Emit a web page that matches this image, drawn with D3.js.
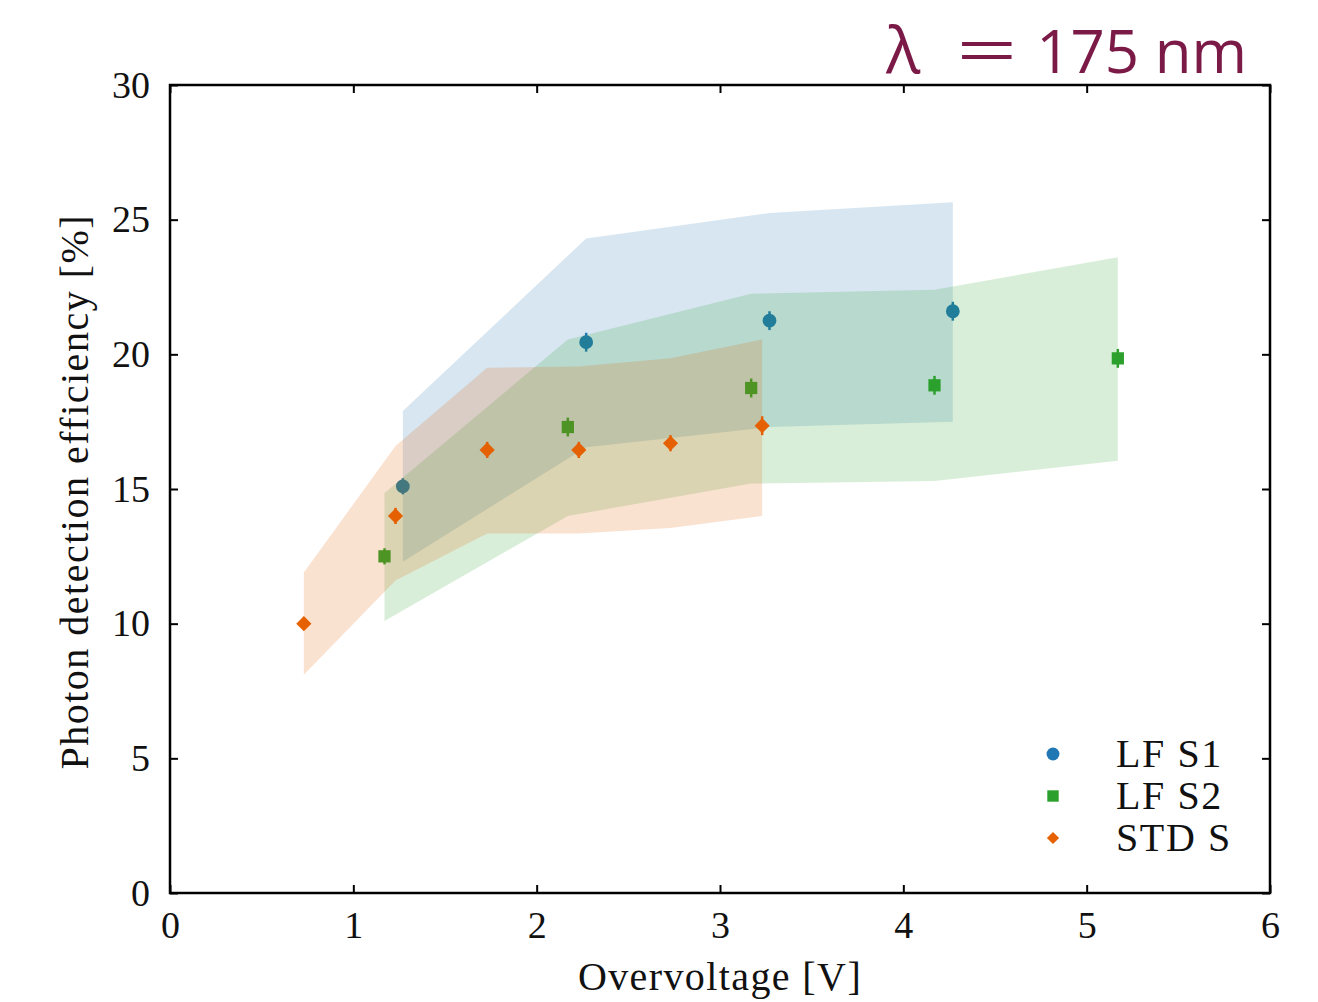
<!DOCTYPE html>
<html>
<head>
<meta charset="utf-8">
<script src="https://cdn.jsdelivr.net/npm/d3@7"></script>
<style>
  body { margin: 0; background: #fff; }
</style>
</head>
<body>
<div id="viz"></div>
<script>
// data
const s1X = [1.27, 2.27, 3.27, 4.27];
const s1Y = [15.1, 20.45, 21.25, 21.6];
const s1Err = [0.3, 0.35, 0.35, 0.35];
const s1Lo = [12.3, 16.55, 17.3, 17.5];
const s1Hi = [17.9, 24.3, 25.25, 25.65];

const s2X = [1.17, 2.17, 3.17, 4.17, 5.17];
const s2Y = [12.5, 17.3, 18.75, 18.85, 19.85];
const s2Err = [0.3, 0.35, 0.35, 0.35, 0.35];
const s2Lo = [10.1, 14.0, 15.2, 15.3, 16.05];
const s2Hi = [14.85, 20.55, 22.25, 22.4, 23.6];

const stdX = [0.73, 1.23, 1.73, 2.23, 2.73, 3.23];
const stdY = [10.0, 14.0, 16.45, 16.45, 16.7, 17.35];
const stdErr = [0.2, 0.3, 0.3, 0.3, 0.3, 0.35];
const stdLo = [8.1, 11.6, 13.35, 13.35, 13.55, 14.0];
const stdHi = [11.9, 16.6, 19.5, 19.55, 19.85, 20.55];

const xTicks = [0, 1, 2, 3, 4, 5, 6];
const yTicks = [0, 5, 10, 15, 20, 25, 30];

const w = 1318, h = 1002;
const serif = '"Liberation Serif", "DejaVu Serif", serif';
const sans = '"Open Sans", "Noto Sans", sans-serif';
const svg = d3.select('#viz').append('svg').attr('width', w).attr('height', h);

const x = d3.scaleLinear().domain([0, 6]).range([170, 1270]);
const y = d3.scaleLinear().domain([0, 30]).range([893, 85]);

const series = [
  {name: 'LF S1', xs: s1X, ys: s1Y, err: s1Err, lo: s1Lo, hi: s1Hi, color: '#1f77b4', shape: d3.symbolCircle, size: 150, rot: 0},
  {name: 'LF S2', xs: s2X, ys: s2Y, err: s2Err, lo: s2Lo, hi: s2Hi, color: '#2ca02c', shape: d3.symbolSquare, size: 150, rot: 0},
  {name: 'STD S', xs: stdX, ys: stdY, err: stdErr, lo: stdLo, hi: stdHi, color: '#e66101', shape: d3.symbolSquare, size: 115, rot: 45}
];

const area = d3.area().x(d => x(d.x)).y0(d => y(d.lo)).y1(d => y(d.hi));

// points first, then their band on top (as in the original)
series.forEach(s => {
  const pts = s.xs.map((v, i) => ({x: v, y: s.ys[i], e: s.err[i], lo: s.lo[i], hi: s.hi[i]}));
  svg.selectAll(null).data(pts).enter().append('line')
    .attr('x1', d => x(d.x)).attr('x2', d => x(d.x))
    .attr('y1', d => y(d.y - d.e)).attr('y2', d => y(d.y + d.e))
    .attr('stroke', s.color).attr('stroke-width', 2.5);
  svg.selectAll(null).data(pts).enter().append('path')
    .attr('d', d3.symbol().type(s.shape).size(s.size))
    .attr('transform', d => 'translate(' + x(d.x) + ',' + y(d.y) + ') rotate(' + s.rot + ')')
    .attr('fill', s.color);
  svg.append('path').datum(pts)
    .attr('d', area)
    .attr('fill', s.color)
    .attr('fill-opacity', 0.18);
});

// axes, ticks inward on all sides
const tickLen = 8;
svg.append('g').attr('transform', 'translate(0,893)')
  .call(d3.axisBottom(x).tickValues(xTicks).tickSize(-tickLen).tickPadding(18).tickFormat(d3.format('d')))
  .call(g => g.select('.domain').remove());
svg.append('g').attr('transform', 'translate(0,85)')
  .call(d3.axisTop(x).tickValues(xTicks).tickSize(-tickLen).tickFormat(''))
  .call(g => g.select('.domain').remove());
svg.append('g').attr('transform', 'translate(170,0)')
  .call(d3.axisLeft(y).tickValues(yTicks).tickSize(-tickLen).tickPadding(20).tickFormat(d3.format('d')))
  .call(g => g.select('.domain').remove());
svg.append('g').attr('transform', 'translate(1270,0)')
  .call(d3.axisRight(y).tickValues(yTicks).tickSize(-tickLen).tickFormat(''))
  .call(g => g.select('.domain').remove());

svg.selectAll('.tick line').attr('stroke', '#000').attr('stroke-width', 2);
svg.selectAll('.tick text')
  .style('font-family', serif)
  .style('font-size', '38px').attr('fill', '#111');

svg.append('rect')
  .attr('x', x(0)).attr('y', y(30))
  .attr('width', x(6) - x(0)).attr('height', y(0) - y(30))
  .attr('fill', 'none').attr('stroke', '#000').attr('stroke-width', 2.5);

// axis titles
svg.append('text')
  .attr('x', x(3)).attr('y', 990)
  .attr('text-anchor', 'middle')
  .style('font-family', serif).style('font-size', '40px').style('letter-spacing', '1.4px')
  .attr('fill', '#111')
  .text('Overvoltage [V]');
svg.append('text')
  .attr('transform', 'translate(88,' + y(14.9) + ') rotate(-90)')
  .attr('text-anchor', 'middle')
  .style('font-family', serif).style('font-size', '40px').style('letter-spacing', '1.5px')
  .attr('fill', '#111')
  .text('Photon detection efficiency [%]');

// wavelength label: λ = 175 nm
const title = svg.append('g').attr('fill', '#7b1a47');
title.append('text')
  .attr('x', 886).attr('y', 73)
  .style('font-family', sans).style('font-size', '64px')
  .text('λ');
title.append('text')
  .attr('transform', 'translate(987,73) scale(1.8,1.05)')
  .attr('text-anchor', 'middle')
  .style('font-family', sans).style('font-size', '60px')
  .text('=');
title.append('text')
  .attr('x', 1247).attr('y', 73)
  .attr('text-anchor', 'end')
  .style('font-family', sans).style('font-size', '60px')
  .text('175 nm');

// legend
const legend = svg.append('g');
series.forEach((s, i) => {
  const ly = 754 + i * 42;
  legend.append('path')
    .attr('d', d3.symbol().type(s.shape).size(i === 2 ? 75 : 130))
    .attr('transform', 'translate(1053,' + ly + ') rotate(' + s.rot + ')')
    .attr('fill', s.color);
  legend.append('text')
    .attr('x', 1116).attr('y', ly + 13)
    .style('font-family', serif).style('font-size', '40px').style('letter-spacing', '1.6px')
    .attr('fill', '#111')
    .text(s.name);
});
</script>
</body>
</html>
